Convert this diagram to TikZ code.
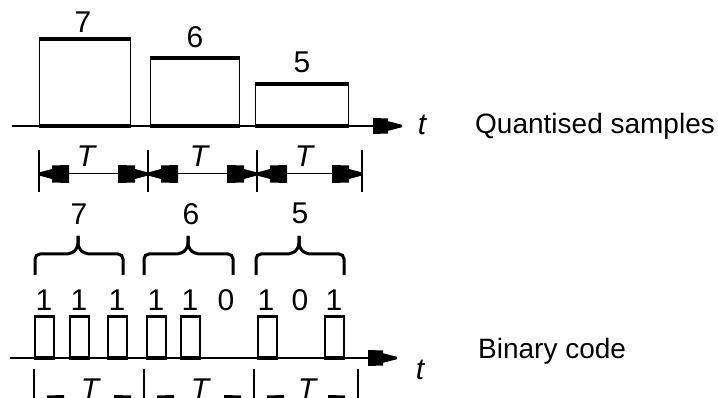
\documentclass[tikz,border=0pt]{standalone}
\usepackage{fontspec}
\setmainfont{Liberation Sans}
\usetikzlibrary{arrows.meta}
\pgfdeclarearrow{
  name = BlkA,
  setup code = {
    \pgfarrowssettipend{0pt}
    \pgfarrowssetlineend{-10pt}
    \pgfarrowssetbackend{-29pt}
    \pgfarrowshullpoint{0pt}{0pt}
    \pgfarrowshullpoint{-29pt}{8pt}
    \pgfarrowshullpoint{-29pt}{-8pt}
  },
  drawing code = {
    \pgfpathmoveto{\pgfqpoint{0pt}{1.2pt}}
    \pgfpathlineto{\pgfqpoint{-14pt}{4.8pt}}
    \pgfpathlineto{\pgfqpoint{-14pt}{7.5pt}}
    \pgfpathlineto{\pgfqpoint{-29pt}{8pt}}
    \pgfpathlineto{\pgfqpoint{-29pt}{-8pt}}
    \pgfpathlineto{\pgfqpoint{-14pt}{-7.5pt}}
    \pgfpathlineto{\pgfqpoint{-14pt}{-4.8pt}}
    \pgfpathlineto{\pgfqpoint{0pt}{-1.2pt}}
    \pgfpathclose
    \pgfusepathqfill
  },
}
\pgfdeclarearrow{
  name = BlkD,
  setup code = {
    \pgfarrowssettipend{0pt}
    \pgfarrowssetlineend{-10pt}
    \pgfarrowssetbackend{-30pt}
    \pgfarrowshullpoint{0pt}{0pt}
    \pgfarrowshullpoint{-30pt}{9pt}
    \pgfarrowshullpoint{-30pt}{-9pt}
  },
  drawing code = {
    \pgfpathmoveto{\pgfqpoint{0pt}{1.5pt}}
    \pgfpathlineto{\pgfqpoint{-13pt}{5pt}}
    \pgfpathlineto{\pgfqpoint{-13pt}{8.5pt}}
    \pgfpathlineto{\pgfqpoint{-30pt}{9pt}}
    \pgfpathlineto{\pgfqpoint{-30pt}{-9pt}}
    \pgfpathlineto{\pgfqpoint{-13pt}{-8.5pt}}
    \pgfpathlineto{\pgfqpoint{-13pt}{-5pt}}
    \pgfpathlineto{\pgfqpoint{0pt}{-1.5pt}}
    \pgfpathclose
    \pgfusepathqfill
  },
}
\begin{document}
\begin{tikzpicture}[x=1pt,y=-1pt,
  thinline/.style={line width=1.2pt},
  thickline/.style={line width=3.6pt},
  sidew/.style={line width=1.8pt},
  bigtxt/.style={font=\fontsize{30}{32}\selectfont, inner sep=0pt, anchor=base},
  wordtxt/.style={font=\fontsize{28}{30}\selectfont, inner sep=0pt, anchor=base west},
  itxt/.style={font=\fontsize{30}{32}\selectfont\itshape, inner sep=0pt, anchor=base},
  axisarrow/.style={thinline, -{BlkA}},
  dimarrow/.style={line width=1pt, {BlkD}-{BlkD}},
  samplebox/.style={draw, thinline, inner sep=0pt, anchor=south west},
  pulsebox/.style={draw, sidew, inner sep=0pt, anchor=south west, minimum width=19pt, minimum height=40pt},
  bracepath/.style={line width=3pt, rounded corners=5pt}
]
\useasboundingbox (0,0) rectangle (718,398);
\clip (0,0) rectangle (718,398);

% ---------- Quantised samples ----------
\coordinate (a1s) at (12,126);
\coordinate (a1e) at (402,126);
\node[samplebox, minimum width=91pt, minimum height=86pt] (s1) at (39,126) {};
\node[samplebox, minimum width=89pt, minimum height=67pt] (s2) at (150,126) {};
\node[samplebox, minimum width=93pt, minimum height=41pt] (s3) at (255,126) {};
\draw[axisarrow] (a1s) -- (a1e);
\foreach \s in {s1,s2,s3}{
  \draw[thickline] (\s.north west) -- (\s.north east);
  \draw[thickline] (\s.south west) -- (\s.south east);
}
\node[bigtxt] (q7) at (83,33) {7};
\node[bigtxt] (q6) at (195,48) {6};
\node[bigtxt] (q5) at (302,73) {5};
\node[itxt] (t1) at (422,135) {t};
\node[wordtxt] (qs) at (475,134) {Quantised samples};

% T dimension lines (top)
\foreach \n/\x in {0/39,1/148,2/257,3/362}{
  \coordinate (tt\n) at (\x,150);
  \coordinate (tb\n) at (\x,192);
  \coordinate (tm\n) at (\x,174);
  \draw[thinline] (tt\n) -- (tb\n);
}
\draw[dimarrow] (tm0) -- (tm1);
\draw[dimarrow] (tm1) -- (tm2);
\draw[dimarrow] (tm2) -- (tm3);
\node[itxt] (T1) at (86,167) {T};
\node[itxt] (T2) at (199,167) {T};
\node[itxt] (T3) at (304,167) {T};

% ---------- Binary code ----------
\coordinate (a2s) at (10,358);
\coordinate (a2e) at (397,358);
\foreach \n/\x in {1/34,2/69,3/107,4/146,5/180,6/257,7/324}{
  \node[pulsebox] (p\n) at (\x,358) {};
}
\draw[axisarrow] (a2s) -- (a2e);
\foreach \n in {1,...,7}{
  \draw[line width=3pt] (p\n.north west) -- (p\n.north east);
  \draw[line width=3pt] (p\n.south west) -- (p\n.south east);
}
\foreach \n/\x/\b in {1/44/1,2/79/1,3/117/1,4/156/1,5/190/1,6/226/0,7/266/1,8/300/0,9/334/1}{
  \node[bigtxt] (d\n) at (\x,311) {\b};
}
% braces
\foreach \n/\xa/\xc/\xb in {1/35/78/123,2/144/188/233,3/256/299/344}{
  \coordinate (bl\n) at (\xa,275);
  \coordinate (bc\n) at (\xc,236);
  \coordinate (br\n) at (\xb,275);
  \draw[bracepath] (bl\n) |- (\xc-7,254) -- (\xc,248) -- (bc\n);
  \draw[bracepath] (bc\n) -- (\xc,248) -- (\xc+7,254) -| (br\n);
}
\node[bigtxt] (g7) at (79,225) {7};
\node[bigtxt] (g6) at (191,225) {6};
\node[bigtxt] (g5) at (300,224) {5};
\node[itxt] (t2) at (420,379) {t};
\node[wordtxt] (bc) at (478,358) {Binary code};

% T dimension lines (bottom, cut off by the frame)
\foreach \n/\x in {0/34,1/144,2/254,3/358}{
  \coordinate (ut\n) at (\x,369);
  \coordinate (ub\n) at (\x,430);
  \coordinate (um\n) at (\x,404);
  \draw[thinline] (ut\n) -- (ub\n);
}
\draw[dimarrow] (um0) -- (um1);
\draw[dimarrow] (um1) -- (um2);
\draw[dimarrow] (um2) -- (um3);
\node[itxt] (U1) at (90,399) {T};
\node[itxt] (U2) at (200,399) {T};
\node[itxt] (U3) at (307,399) {T};
\end{tikzpicture}
\end{document}
